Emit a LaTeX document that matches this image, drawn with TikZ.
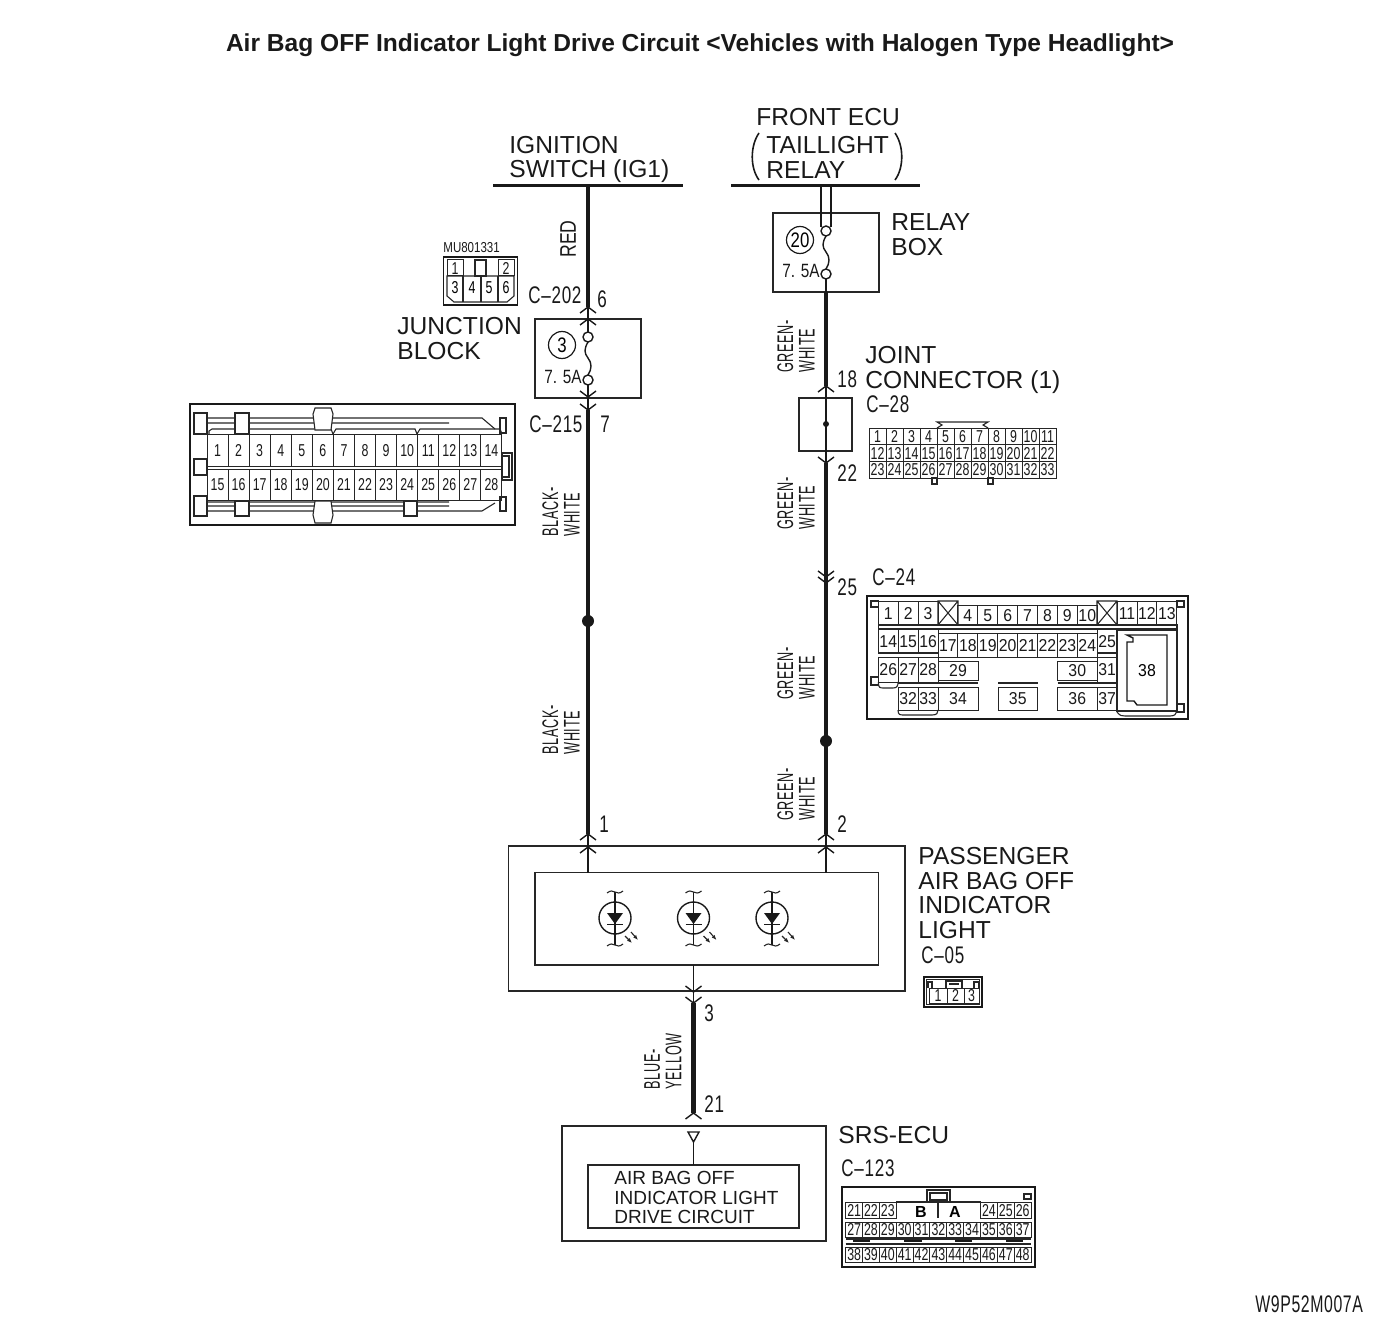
\documentclass[tikz,border=0pt]{standalone}
\usepackage{fontspec}
\setmainfont{Liberation Sans}
\newfontfamily\monof[FakeStretch=0.71,LetterSpace=3]{Liberation Sans}
\newfontfamily\wnof[FakeStretch=0.66,LetterSpace=2.5]{Liberation Sans}
\newfontfamily\condf[FakeStretch=0.72]{Liberation Sans}
\newfontfamily\wiref[FakeStretch=0.56,LetterSpace=3]{Liberation Sans}
\newfontfamily\redf[FakeStretch=0.78]{Liberation Sans}
\newfontfamily\pinf[FakeStretch=0.8]{Liberation Sans}
\newfontfamily\pinbf[FakeStretch=0.92]{Liberation Sans}
\newcount\pinc
\usetikzlibrary{arrows.meta}
\tikzset{
  thinw/.style={line width=0.7pt,black!90},
  thickw/.style={line width=2.3pt,black!90},
  fine/.style={line width=0.55pt,black!85},
  mainbox/.style={draw=black!85,line width=0.6pt,inner sep=0pt,outer sep=0pt},
  lbl/.style={font=\fontsize{12.3}{12}\selectfont,anchor=base west,inner sep=0pt,text=black!90},
  code/.style={font=\monof\fontsize{12}{12}\selectfont,anchor=base west,inner sep=0pt,text=black!90},
  wirelbl/.style={font=\wiref\fontsize{11.3}{10.7}\selectfont,rotate=90,anchor=west,align=left,inner sep=0pt,text=black!90},
  pinbox/.style={draw=black!85,line width=0.5pt,inner sep=0pt,outer sep=0pt,text=black!90,text height=6.2pt,text depth=0pt},
  pa/.style={font=\condf\fontsize{8.6}{9}\selectfont},
  pb/.style={font=\pinbf\fontsize{8.6}{9}\selectfont},
  pc/.style={font=\condf\fontsize{8.6}{9}\selectfont},
  chevu/.pic={\draw[thinw] (-8,6) -- (0,0) -- (8,6);},
  chevd/.pic={\draw[thinw] (-8,-6) -- (0,0) -- (8,-6);},
  fuse/.pic={\draw[thinw,fill=white] (0,0) circle (5); \draw[thinw,fill=white] (0,43) circle (5);
    \draw[thinw] (0,5) .. controls (-4,12) and (-4,16) .. (0,21) .. controls (4,26) and (4,32) .. (0,38);},
  led/.pic={\draw[thinw] (0,0) circle (16); \draw[thinw] (0,-26) -- (0,27);
    \draw[fine] (-8,-25) .. controls (-4,-28) and (-3,-27) .. (0,-26) .. controls (3,-25) and (4,-24) .. (8,-27);
    \draw[fine] (-8,28) .. controls (-4,25) and (-3,26) .. (0,27) .. controls (3,28) and (4,29) .. (8,26);
    \fill[black!90] (-8,-5) -- (8,-5) -- (0,6) -- cycle; \draw[thinw] (-8,6.5) -- (8,6.5);
    \draw[fine,-{Latex[length=2.5pt,width=2pt]}] (10,18) -- (17,25);
    \draw[fine,-{Latex[length=2.5pt,width=2pt]}] (16,14) -- (23,22);},
}
\newcommand\mybox[5]{\pgfmathsetmacro\bw{(#4-#2)*0.5}\pgfmathsetmacro\bh{(#5-#3)*0.5}\pgfmathsetmacro\bx{(#2+#4)/2}\pgfmathsetmacro\by{(#3+#5)/2}\node[mainbox,minimum width=\bw pt,minimum height=\bh pt] (#1) at (\bx,\by) {};}
\newcommand\pin[6][]{\global\advance\pinc by 1 \pgfmathsetmacro\bw{(#4-#2)*0.5}\pgfmathsetmacro\bh{(#5-#3)*0.5}\pgfmathsetmacro\bx{(#2+#4)/2}\pgfmathsetmacro\by{(#3+#5)/2}\node[pinbox,#1,minimum width=\bw pt,minimum height=\bh pt] (pin\the\pinc) at (\bx,\by) {#6};}
\newcommand\gridrow[7]{\foreach \n [count=\i from #6] in {#7} {\pgfmathsetmacro\xa{#2+#3*\i}\pgfmathsetmacro\xb{#2+#3*(\i+1)}\pin[#1]{\xa}{#4}{\xb}{#5}{\n}}}
\begin{document}
\begin{tikzpicture}[x=0.5pt,y=-0.5pt]
\useasboundingbox (0,0) rectangle (1400,1336);
% title
\node[font=\bfseries\fontsize{12.28}{12}\selectfont,anchor=base,inner sep=0pt,text=black!90] (title) at (700,52) {Air Bag OFF Indicator Light Drive Circuit <Vehicles with Halogen Type Headlight>};
% head labels
\node[lbl] (ig1) at (509,154) {IGNITION};
\node[lbl] (ig2) at (509,178) {SWITCH (IG1)};
\node[lbl] (fe1) at (756,126) {FRONT ECU};
\node[lbl] (fe2) at (766,154) {TAILLIGHT};
\node[lbl] (fe3) at (766,179) {RELAY};
\draw[thinw,line width=0.8pt] (759,133) .. controls (750,146) and (750,168) .. (759,180);
\draw[thinw,line width=0.8pt] (895,133) .. controls (904,146) and (904,168) .. (895,180);
\coordinate (r1a) at (493,186); \coordinate (r1b) at (683,186);
\coordinate (r2a) at (731,186); \coordinate (r2b) at (920,186);
\draw[line width=1.5pt,black!90] (r1a) -- (r1b);
\draw[line width=1.5pt,black!90] (r2a) -- (r2b);
% boxes
\mybox{jb}{535}{319}{641}{398}
\mybox{rb}{773}{213}{879}{292}
\mybox{jc}{799}{398}{852}{451}
\mybox{pl}{508.5}{846}{905}{991}
\mybox{pi}{535}{872.5}{878.5}{965}
\mybox{srs}{562}{1126}{826}{1241}
\node[mainbox,minimum width=105.5pt,minimum height=31.5pt] (drv) at (693.5,1196.5) {};
% left wire
\coordinate (a0) at (588,186); \coordinate (a1) at (588,307); \coordinate (a2) at (588,332);
\coordinate (a3) at (588,385); \coordinate (a4) at (588,410); \coordinate (a5) at (588,621);
\coordinate (a6) at (588,834); \coordinate (a7) at (588,873);
\draw[thickw] (a0) -- (a1);
\draw[thinw] (a1) -- (a2);
\draw[thinw] (a3) -- (a4);
\draw[thickw] (a4) -- (a6);
\draw[thinw] (a6) -- (a7);
\fill[black!90] (a5) circle (6);
\pic at (588,307) {chevu}; \pic at (588,319) {chevu};
\pic at (588,397) {chevd}; \pic at (588,410) {chevd};
\pic at (588,337) {fuse};
\pic at (588,834) {chevu}; \pic at (588,847) {chevu};
% right wire
\coordinate (b0a) at (821,186); \coordinate (b0b) at (831,186);
\coordinate (b1a) at (821,227); \coordinate (b1b) at (831,227);
\coordinate (b2) at (826,278); \coordinate (b3) at (826,292); \coordinate (b4) at (826,386);
\coordinate (b5) at (826,463); \coordinate (b6) at (826,424); \coordinate (b7) at (826,741);
\coordinate (b8) at (826,834); \coordinate (b9) at (826,873);
\draw[thinw] (b0a) -- (b1a); \draw[thinw] (b0b) -- (b1b);
\draw[thinw] (b2) -- (b3);
\draw[thickw] (b3) -- (b4);
\draw[thinw] (b4) -- (b5);
\draw[thickw] (b5) -- (b8);
\draw[thinw] (b8) -- (b9);
\fill[black!90] (b6) circle (3);
\fill[black!90] (b7) circle (6);
\pic at (826,231) {fuse};
\pic at (826,386) {chevu};
\pic at (826,463) {chevd};
\pic at (826,577) {chevd}; \pic at (826,583) {chevd};
\pic at (826,834) {chevu}; \pic at (826,847) {chevu};
% bottom wire
\coordinate (c0) at (693.5,965); \coordinate (c1) at (693.5,1003); \coordinate (c2) at (693.5,1113);
\coordinate (c3) at (693.5,1142); \coordinate (c4) at (693.5,1165);
\draw[thinw] (c0) -- (c1);
\draw[thickw] (c1) -- (c2);
\draw[thinw] (c3) -- (c4);
\draw[thinw] (688,1132) -- (699,1132) -- (693.5,1142) -- cycle;
\pic at (693.5,992) {chevd}; \pic at (693.5,1003) {chevd};
\pic at (693.5,1113) {chevu};
% LEDs
\pic at (615,918) {led}; \pic at (693.5,918) {led}; \pic at (772,918) {led};
% fuse labels
\node[draw=black!90,line width=0.6pt,circle,minimum size=13.5pt,inner sep=0pt,font=\pinf\fontsize{10.5}{10}\selectfont] (f3) at (562,345) {3};
\node[draw=black!90,line width=0.6pt,circle,minimum size=13.5pt,inner sep=0pt,font=\pinf\fontsize{10.5}{10}\selectfont] (f20) at (800,240) {20};
\node[code,font=\pinf\fontsize{9.6}{10}\selectfont] (fa) at (544,384) {7. 5A};
\node[code,font=\pinf\fontsize{9.6}{10}\selectfont] (fb) at (782,278) {7. 5A};
% labels
\node[lbl] (l1) at (891,231) {RELAY};
\node[lbl] (l2) at (891,256) {BOX};
\node[lbl] (l3) at (397,335) {JUNCTION};
\node[lbl] (l4) at (397,360) {BLOCK};
\node[lbl] (l5) at (865,364) {JOINT};
\node[lbl] (l6) at (865,388) {CONNECTOR (1)};
\node[lbl] (l7) at (918,864) {PASSENGER};
\node[lbl] (l8) at (918,889) {AIR BAG OFF};
\node[lbl] (l9) at (918,913) {INDICATOR};
\node[lbl] (l10) at (918,938) {LIGHT};
\node[lbl] (l11) at (838,1143) {SRS-ECU};
\node[lbl,font=\fontsize{9.5}{9.5}\selectfont] (d1) at (614,1184) {AIR BAG OFF};
\node[lbl,font=\fontsize{9.5}{9.5}\selectfont] (d2) at (614,1204) {INDICATOR LIGHT};
\node[lbl,font=\fontsize{9.5}{9.5}\selectfont] (d3) at (614,1223) {DRIVE CIRCUIT};
% codes
\node[code] (k1) at (528,304) {C–202};
\node[code] (k2) at (597,308) {6};
\node[code] (k3) at (529,432) {C–215};
\node[code] (k4) at (600,432) {7};
\node[code] (k5) at (866,413) {C–28};
\node[code] (k6) at (837,387) {18};
\node[code] (k7) at (837,481) {22};
\node[code] (k8) at (837,595) {25};
\node[code] (k9) at (872,585) {C–24};
\node[code] (k10) at (599,832) {1};
\node[code] (k11) at (837,832) {2};
\node[code] (k12) at (704,1021) {3};
\node[code] (k13) at (704,1112) {21};
\node[code] (k14) at (921,963) {C–05};
\node[code] (k15) at (841,1176) {C–123};
\node[code,font=\wnof\fontsize{12}{12}\selectfont] (k16) at (1255,1312) {W9P52M007A};
\node[code,font=\pinf\fontsize{7.2}{7}\selectfont] (k17) at (443,253) {MU801331};
% wire labels
\node[wirelbl,font=\redf\fontsize{11.3}{11}\selectfont] (w1) at (568,258) {RED};
\node[wirelbl] (w2) at (561,537) {BLACK-\\WHITE};
\node[wirelbl] (w3) at (561,755) {BLACK-\\WHITE};
\node[wirelbl] (w4) at (796,373) {GREEN-\\WHITE};
\node[wirelbl] (w5) at (796,530) {GREEN-\\WHITE};
\node[wirelbl] (w6) at (796,700) {GREEN-\\WHITE};
\node[wirelbl] (w7) at (796,821) {GREEN-\\WHITE};
\node[wirelbl] (w8) at (663,1090) {BLUE-\\YELLOW};
% MU801331 connector
\draw[thinw] (443.5,257) rectangle (517.5,305);
\draw[fine] (447,276) -- (447,296) -- (454,302) -- (507,302) -- (514,296) -- (514,276) -- cycle;
\pin[pa]{447}{260}{463}{276}{1}
\draw[fine] (475,260) rectangle (486,276);
\pin[pa]{498}{260}{514}{276}{2}
\draw[fine] (463,276) -- (463,302) (481,276) -- (481,302) (498,276) -- (498,302);
\node[pa,inner sep=0pt] (m3) at (455,288) {3}; \node[pa,inner sep=0pt] (m4) at (472,288) {4};
\node[pa,inner sep=0pt] (m5) at (489,288) {5}; \node[pa,inner sep=0pt] (m6) at (506,288) {6};
% C-215 connector
\draw[thinw] (190,404) rectangle (515,525);
\draw[fine] (207,418) -- (482,418) -- (495,429) (207,423) -- (449,423);
\draw[fine] (207,502) -- (449,502) (207,506) -- (449,506) (207,511) -- (482,511) -- (495,503);
\draw[fine] (209,434) -- (209,431) -- (212,429) -- (331,429) -- (333,434) -- (336,429) -- (415,429) -- (417,434) -- (420,429) -- (500,429) -- (502,434);
\draw[fine,fill=white] (194,413) rectangle (207,434) (235,413) rectangle (249,434) (194,459) rectangle (207,475) (194,496) rectangle (207,516) (235,501) rectangle (249,516) (404,501) rectangle (417,516);
\draw[fine,fill=white] (315,408) -- (331,408) -- (333,414) -- (331,430) -- (315,430) -- (313,414) -- cycle;
\draw[fine,fill=white] (315,523) -- (331,523) -- (333,515) -- (331,501) -- (315,501) -- (313,515) -- cycle;
\draw[fine] (500,418) rectangle (506,433) (500,497) rectangle (506,511) (502,453) rectangle (512,480) (502,456) -- (509,456) -- (509,477) -- (502,477);
\gridrow{pa}{207}{21.07}{434}{466}{0}{1,2,3,4,5,6,7,8,9,10,11,12,13,14}
\gridrow{pa}{207}{21.07}{469}{500}{0}{15,16,17,18,19,20,21,22,23,24,25,26,27,28}
% C-28 connector
\draw[fine] (932,478) rectangle (937,484) (988,478) rectangle (993,484);
\draw[fine] (937,428) -- (942,425) -- (937,422) -- (988,422) -- (983,425) -- (988,428);
\gridrow{pc}{869}{17}{428}{444.7}{0}{1,2,3,4,5,6,7,8,9,10,11}
\gridrow{pc}{869}{17}{444.7}{461.4}{0}{12,13,14,15,16,17,18,19,20,21,22}
\gridrow{pc}{869}{17}{461.4}{478}{0}{23,24,25,26,27,28,29,30,31,32,33}
% C-24 connector
\draw[thinw] (867,596) rectangle (1188,719);
\draw[fine] (871,601) rectangle (878.3,607) (1177,601) rectangle (1184,607) (871,677) rectangle (878.3,685) (1177,704) rectangle (1184,712);
\draw[fine] (878.3,682) .. controls (878.3,688) and (880,688) .. (884,688) -- (893,688) .. controls (897,688) and (898,686) .. (898,682);
\draw[fine] (898,710) .. controls (898,715) and (900,715) .. (904,715) -- (932,715) .. controls (937,715) and (938,713) .. (938,710);
\draw[fine] (1117,712) .. controls (1120,716) and (1122,716) .. (1125,716) -- (1170,716) .. controls (1175,716) and (1176,714) .. (1177,711);
\gridrow{pb}{878.3}{19.9}{601}{625}{0}{1,2,3}
\draw[fine] (938,601) rectangle (958,625) (938,601) -- (958,625) (958,601) -- (938,625);
\gridrow{pb}{878.3}{19.9}{605}{625}{4}{4,5,6,7,8,9,10}
\draw[fine] (1097,601) rectangle (1117,625) (1097,601) -- (1117,625) (1117,601) -- (1097,625);
\gridrow{pb}{878.3}{19.9}{601}{625}{12}{11,12,13}
\gridrow{pb}{878.3}{19.9}{629}{653}{0}{14,15,16}
\gridrow{pb}{878.3}{19.9}{633}{657}{3}{17,18,19,20,21,22,23,24}
\gridrow{pb}{878.3}{19.9}{629}{653}{11}{25}
\gridrow{pb}{878.3}{19.9}{657}{682}{0}{26,27,28}
\pin[pb]{938}{661}{978}{680}{29}
\pin[pb]{1057.5}{661}{1097}{680}{30}
\gridrow{pb}{878.3}{19.9}{657}{682}{11}{31}
\gridrow{pb}{878.3}{19.9}{687}{710}{1}{32,33}
\pin[pb]{938}{687}{978}{710}{34}
\pin[pb]{998}{687}{1037.5}{710}{35}
\pin[pb]{1057.5}{687}{1097}{710}{36}
\gridrow{pb}{878.3}{19.9}{687}{710}{11}{37}
\draw[fine] (878.3,625) rectangle (1177,629);
\draw[fine] (938,683) -- (978,683) (998,683) -- (1037.5,683) (1057.5,683) -- (1097,683) (898,683) -- (938,683) (1097,683) -- (1117,683);
\draw[fine] (878.3,653) -- (938,653) (938,629) -- (1097,629) (1097,653) -- (1117,653);
\draw[fine] (1117,630) -- (1177,630) -- (1177,711) -- (1117,711) -- cycle;
\draw[thinw] (1127,635) -- (1167,635) -- (1167,705) -- (1137,705) -- (1134,701) -- (1127,701) -- (1127,642) -- (1133,642) -- (1133,638) -- cycle;
\node[pb,inner sep=0pt] (p38) at (1147,671) {38};
% C-05 connector
\draw[thinw] (924,977) rectangle (982,1007);
\draw[fine] (926.5,979.5) rectangle (979.5,1004.5);
\draw[fine] (946,988) -- (946,981) -- (962,981) -- (962,988) (949,984) -- (959,984);
\draw[fine] (928,988) -- (928,982) -- (932,982) -- (932,988) (974,988) -- (974,982) -- (979,982) -- (979,988);
\pin[pa]{929}{988}{947}{1003}{1}
\pin[pa]{947}{988}{964}{1003}{2}
\pin[pa]{964}{988}{979}{1003}{3}
% C-123 connector
\draw[thinw] (842,1187) rectangle (1035,1267);
\draw[fine] (927,1202) -- (927,1190) -- (950,1190) -- (950,1202) (930,1193) -- (947,1193) -- (947,1200) -- (930,1200) -- cycle;
\draw[fine] (1024,1194) rectangle (1031,1199);
\gridrow{pc}{845.7}{16.85}{1202}{1218}{0}{21,22,23}
\gridrow{pc}{845.7}{16.85}{1202}{1218}{8}{24,25,26}
\draw[fine] (896.3,1202) -- (980.5,1202) (938,1199) -- (938,1218);
\node[inner sep=0pt,font=\bfseries\fontsize{8}{8}\selectfont] (pb) at (921,1212) {B};
\node[inner sep=0pt,font=\bfseries\fontsize{8}{8}\selectfont] (pa) at (955,1212) {A};
\gridrow{pc}{845.7}{16.85}{1222}{1237}{0}{27,28,29,30,31,32,33,34,35,36,37}
\gridrow{pc}{845.7}{16.85}{1247}{1262}{0}{38,39,40,41,42,43,44,45,46,47,48}
\draw[fine] (845.7,1239) -- (1031,1239) (845.7,1244) -- (1031,1244);
\draw[line width=1.2pt,black!90] (853,1241) -- (870,1241) (904,1241) -- (922,1241) (955,1241) -- (972,1241) (1006,1241) -- (1023,1241);
\end{tikzpicture}
\end{document}
